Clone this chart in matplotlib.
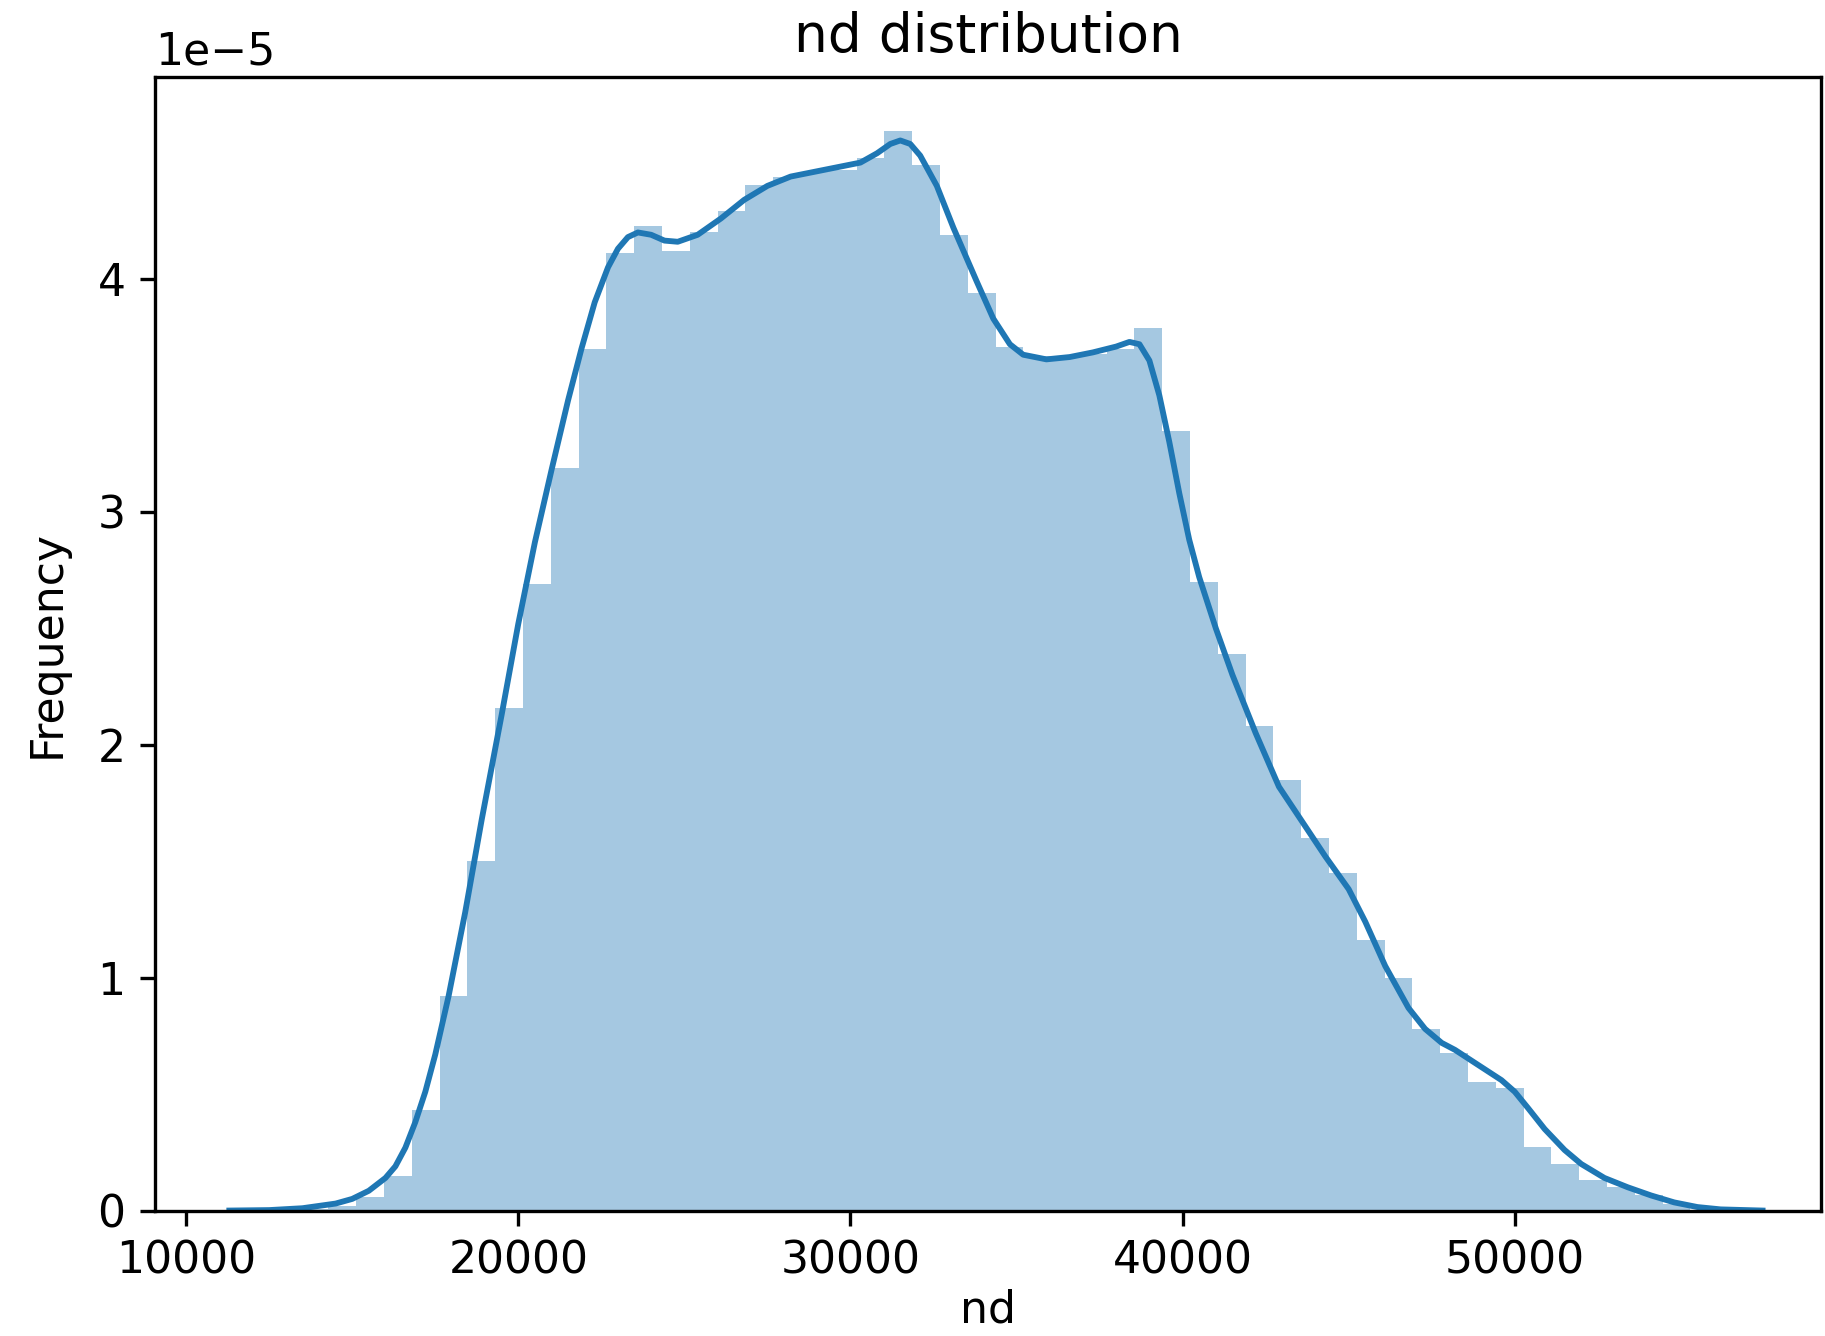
"""
nd distribution: histogram (density) with a KDE line on top
"""

import matplotlib
matplotlib.use('Agg')
import matplotlib.pyplot as plt
import numpy as np

# histogram: 50 equal bins, density values in units of 1e-5
bin_start = 13447
bin_width = 836.8
bar_heights = [
    0.005, 0.02, 0.06, 0.15, 0.43, 0.92, 1.5, 2.16, 2.69, 3.19,
    3.7, 4.11, 4.226, 4.12, 4.2, 4.29, 4.405, 4.44, 4.46, 4.467,
    4.52, 4.634, 4.49, 4.19, 3.94, 3.71, 3.67, 3.67, 3.68, 3.70,
    3.79, 3.346, 2.70, 2.39, 2.08, 1.85, 1.6, 1.45, 1.16, 1.0,
    0.78, 0.675, 0.55, 0.525, 0.275, 0.2, 0.13, 0.1, 0.065, 0.03,
]

# KDE curve (units of 1e-5)
kde_x = [
    11300, 12500, 13500, 14500, 15000, 15500, 16000, 16300, 16600, 16900,
    17200, 17500, 17900, 18400, 18900, 19500, 20000, 20500, 21000, 21500,
    21900, 22300, 22700, 23000, 23300, 23600, 24000, 24400, 24800, 25400,
    26100, 26800, 27500, 28200, 28900, 29600, 30300, 30800, 31200, 31500,
    31800, 32100, 32600, 33100, 33800, 34300, 34800, 35200, 35900, 36600,
    37300, 38000, 38400, 38700, 39000, 39300, 39600, 39900, 40200, 40500,
    41000, 41500, 42200, 42900, 43600, 44300, 45000, 45500, 46100, 46800,
    47300, 47800, 48200, 48900, 49600, 50000, 50400, 50900, 51500, 52000,
    52700, 53400, 54100, 54800, 55500, 56200, 57460,
]
kde_y = [
    0.0, 0.002, 0.01, 0.03, 0.05, 0.085, 0.14, 0.19, 0.27, 0.38,
    0.51, 0.67, 0.92, 1.28, 1.68, 2.13, 2.52, 2.87, 3.18, 3.48,
    3.7, 3.9, 4.05, 4.13, 4.18, 4.2, 4.19, 4.165, 4.16, 4.19,
    4.26, 4.34, 4.4, 4.44, 4.46, 4.48, 4.5, 4.54, 4.58, 4.595,
    4.58, 4.53, 4.4, 4.22, 3.99, 3.83, 3.72, 3.675, 3.655, 3.665,
    3.685, 3.71, 3.73, 3.72, 3.65, 3.5, 3.3, 3.08, 2.88, 2.72,
    2.5, 2.3, 2.05, 1.82, 1.67, 1.52, 1.38, 1.24, 1.05, 0.87,
    0.78, 0.72, 0.69, 0.625, 0.56, 0.51, 0.44, 0.35, 0.26, 0.2,
    0.14, 0.1, 0.065, 0.035, 0.015, 0.005, 0.0,
]

scale = 1e-5
color = '#1f77b4'

fig = plt.figure(figsize=(1825 / 300, 1336 / 300), dpi=300)
ax = fig.add_axes([0.0848, 0.0939, 0.9132, 0.8482])

lefts = bin_start + bin_width * np.arange(len(bar_heights))
ax.bar(lefts, np.array(bar_heights) * scale, width=bin_width, align='edge',
       color=color, alpha=0.4, linewidth=0)
ax.plot(kde_x, np.array(kde_y) * scale, color=color, linewidth=1.4)

ax.set_xlim(9055, 59230)
ax.set_ylim(0, 4.866e-5)
ax.set_xticks([10000, 20000, 30000, 40000, 50000])
ax.tick_params(labelsize=10.6)
ax.yaxis.get_offset_text().set_fontsize(10.6)
ax.set_title('nd distribution', fontsize=12.8)
ax.set_xlabel('nd', fontsize=10.6, labelpad=1.5)
ax.set_ylabel('Frequency', fontsize=10.6, labelpad=7)

fig.savefig('out.png', dpi=300)
